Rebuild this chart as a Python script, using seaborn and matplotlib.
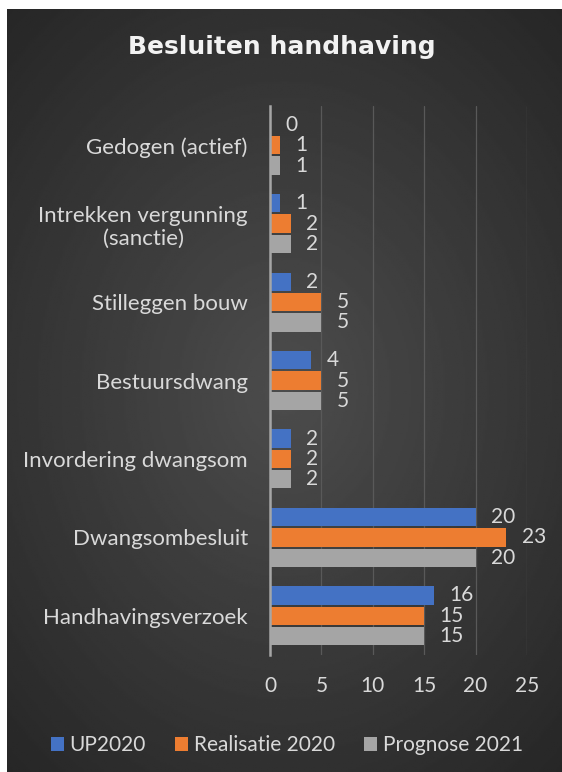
import numpy as np
import pandas as pd
import seaborn as sns
import matplotlib.pyplot as plt

sns.set_style("dark")
plt.rcParams['font.family'] = ['Lato', 'DejaVu Sans']

categories = ["Gedogen (actief)", "Intrekken vergunning\n(sanctie)", "Stilleggen bouw",
              "Bestuursdwang", "Invordering dwangsom", "Dwangsombesluit", "Handhavingsverzoek"]
series = ["UP2020", "Realisatie 2020", "Prognose 2021"]
up2020 = [0, 1, 2, 4, 2, 20, 16]
realisatie2020 = [1, 2, 5, 5, 2, 23, 15]
prognose2021 = [1, 2, 5, 5, 2, 20, 15]
colors = ["#4472C4", "#ED7D31", "#A5A5A5"]
txt = "#d9d9d9"

rows = []
for s, vals in zip(series, [up2020, realisatie2020, prognose2021]):
    for c, v in zip(categories, vals):
        rows.append({"categorie": c, "serie": s, "aantal": v})
df = pd.DataFrame(rows)

fig = plt.figure(figsize=(5.62, 7.72), dpi=100)
fig.patch.set_facecolor("white")

# radial gradient background (light centre, dark edges)
bg = fig.add_axes([7 / 562, 0, 555 / 562, 763 / 772], zorder=-1)
yy, xx = np.mgrid[-1:1:400j, -1:1:300j]
r = np.sqrt(xx ** 2 + (yy * 1.1) ** 2)
bg.imshow(0.30 - 0.1 * r, cmap="gray", vmin=0, vmax=1, aspect="auto", extent=[0, 1, 0, 1])
bg.set_axis_off()

ax = fig.add_axes([270 / 562, 1 - 655 / 772, 257 / 562, 549 / 772])
ax.set_facecolor("none")
sns.barplot(data=df, x="aantal", y="categorie", hue="serie", orient="h",
            palette=colors, width=0.78, gap=0.1, ax=ax, saturation=1, linewidth=0)

for cont in ax.containers:
    ax.bar_label(cont, padding=11, color=txt, fontsize=15)

ax.set_xlim(0, 25)
ax.set_xticks(range(0, 26, 5))
ax.set_xlabel("")
ax.set_ylabel("")
ax.grid(axis="x", color="#595959", linewidth=0.9)
ax.grid(axis="y", visible=False)
ax.tick_params(axis="x", length=0, pad=15, labelsize=15, labelcolor=txt)
ax.tick_params(axis="y", length=0, pad=16, labelsize=16, labelcolor=txt)
for lab in ax.get_yticklabels():
    lab.set_multialignment("center")
for side in ["top", "right", "bottom"]:
    ax.spines[side].set_visible(False)
ax.spines["left"].set_color("#a6a6a6")
ax.spines["left"].set_linewidth(1.8)

handles, labels = ax.get_legend_handles_labels()
ax.get_legend().remove()
fig.legend(handles, labels, loc="center", bbox_to_anchor=(0.51, 1 - 745 / 772), ncol=3,
           frameon=False, fontsize=15, labelcolor=txt, handlelength=0.65, handleheight=0.65,
           handletextpad=0.25, columnspacing=1.4)

fig.text(0.502, 1 - 47 / 772, "Besluiten handhaving", ha="center", va="center",
         color="#f2f2f2", fontsize=18, fontweight="bold", family="DejaVu Sans")

plt.savefig("out.png", dpi=100)
